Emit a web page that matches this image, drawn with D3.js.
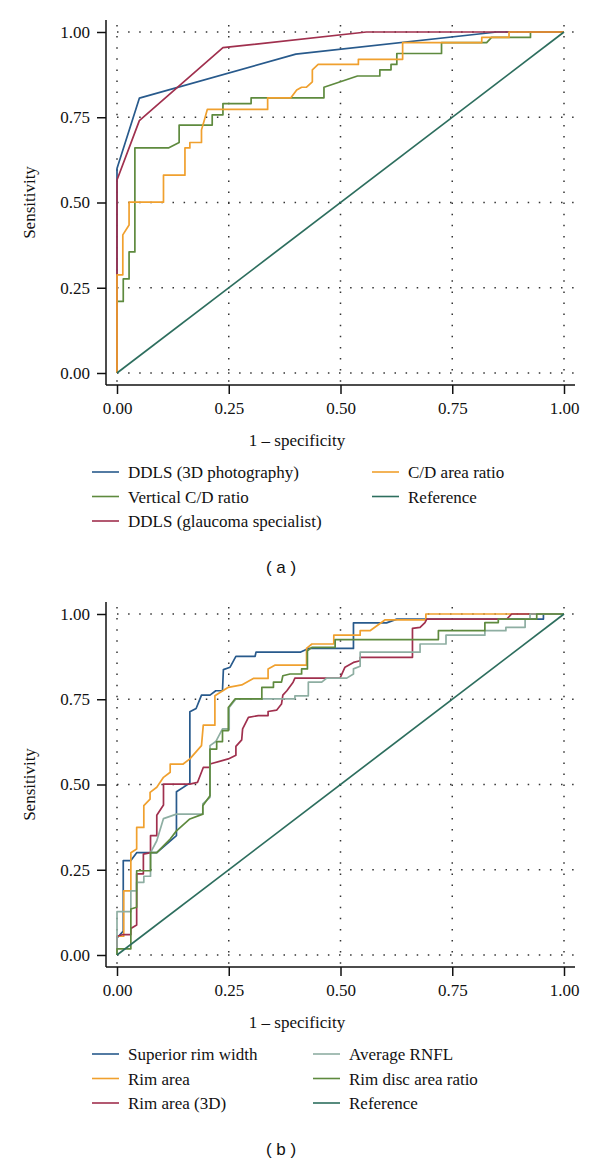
<!DOCTYPE html>
<html>
<head>
<meta charset="utf-8">
<script src="https://cdn.jsdelivr.net/npm/d3@7"></script>
<style>
    body { margin: 0; background: #fff; }
    svg { display: block; }
    .tick-label, .axis-title, .legend-text { font-family: "Liberation Serif", "DejaVu Serif", serif; fill: #111; }
    .panel-tag { font-family: "Liberation Sans", Arial, sans-serif; fill: #111; }
</style>
</head>
<body>
<script>
(function(){
    // Tick values shared by both panels
    var tickValues = [0, 0.25, 0.5, 0.75, 1];
    var tickLabels = ["0.00", "0.25", "0.50", "0.75", "1.00"];

    // ---- Panel (a): [1 - specificity, sensitivity] ----
    var ddls3d = [[0,0],[0,0.60],[0.05,0.806],[0.40,0.935],[0.85,1],[1,1]];
    var vcdRatio = [[0,0],[0,0.21],[0.014,0.21],[0.014,0.276],[0.027,0.276],[0.027,0.355],[0.040,0.355],[0.040,0.66],
        [0.115,0.66],[0.139,0.676],[0.139,0.727],[0.213,0.727],[0.213,0.757],[0.237,0.757],[0.237,0.79],[0.30,0.79],
        [0.30,0.807],[0.463,0.807],[0.463,0.838],[0.538,0.871],[0.588,0.871],[0.588,0.889],[0.613,0.889],[0.613,0.905],
        [0.626,0.905],[0.626,0.937],[0.726,0.937],[0.726,0.969],[0.827,0.969],[0.838,0.984],[0.925,0.984],[0.925,1],[1,1]];
    var ddlsSpec = [[0,0],[0,0.566],[0.05,0.74],[0.237,0.954],[0.558,1],[1,1]];
    var cdArea = [[0,0],[0,0.288],[0.013,0.288],[0.013,0.405],[0.027,0.434],[0.027,0.501],[0.104,0.501],[0.104,0.58],
        [0.152,0.58],[0.152,0.66],[0.163,0.66],[0.163,0.676],[0.189,0.676],[0.189,0.713],[0.195,0.74],[0.202,0.773],
        [0.337,0.773],[0.337,0.807],[0.389,0.807],[0.402,0.83],[0.413,0.838],[0.424,0.838],[0.437,0.854],[0.437,0.889],
        [0.45,0.905],[0.54,0.905],[0.54,0.92],[0.639,0.92],[0.639,0.969],[0.816,0.969],[0.816,0.984],[0.877,0.984],
        [0.877,1],[1,1]];
    var referenceLine = [[0,0],[1,1]];

    // ---- Panel (b) ----
    var supRimWidth = [[0,0],[0,0.05],[0.014,0.07],[0.014,0.277],[0.031,0.277],[0.044,0.30],[0.089,0.30],[0.133,0.35],
        [0.133,0.479],[0.163,0.504],[0.163,0.713],[0.177,0.723],[0.189,0.762],[0.208,0.762],[0.221,0.775],[0.236,0.775],
        [0.238,0.837],[0.253,0.844],[0.266,0.876],[0.309,0.876],[0.311,0.888],[0.41,0.888],[0.428,0.899],[0.529,0.899],
        [0.529,0.974],[0.603,0.974],[0.626,0.985],[0.954,0.985],[0.954,1],[1,1]];
    var rimArea = [[0,0],[0,0.055],[0.015,0.055],[0.015,0.188],[0.031,0.188],[0.031,0.30],[0.044,0.311],[0.044,0.374],
        [0.060,0.374],[0.060,0.438],[0.074,0.457],[0.074,0.477],[0.089,0.492],[0.104,0.521],[0.119,0.536],[0.119,0.56],
        [0.148,0.56],[0.163,0.575],[0.189,0.614],[0.193,0.674],[0.219,0.674],[0.219,0.76],[0.249,0.785],[0.279,0.792],
        [0.305,0.811],[0.338,0.811],[0.338,0.839],[0.353,0.85],[0.424,0.85],[0.424,0.899],[0.436,0.912],[0.485,0.912],
        [0.485,0.938],[0.544,0.938],[0.544,0.951],[0.566,0.951],[0.60,0.983],[0.691,0.983],[0.691,1],[1,1]];
    var rimArea3d = [[0,0],[0,0.055],[0.014,0.06],[0.031,0.06],[0.031,0.078],[0.044,0.088],[0.044,0.238],[0.059,0.238],
        [0.059,0.296],[0.075,0.30],[0.075,0.35],[0.089,0.35],[0.089,0.41],[0.104,0.44],[0.104,0.501],[0.163,0.501],
        [0.18,0.506],[0.193,0.55],[0.208,0.55],[0.208,0.56],[0.249,0.575],[0.266,0.586],[0.266,0.612],[0.279,0.631],
        [0.281,0.663],[0.294,0.697],[0.316,0.702],[0.338,0.702],[0.338,0.714],[0.357,0.718],[0.368,0.736],[0.371,0.762],
        [0.38,0.775],[0.394,0.80],[0.398,0.812],[0.499,0.812],[0.51,0.844],[0.529,0.858],[0.544,0.863],[0.544,0.873],
        [0.661,0.873],[0.661,0.958],[0.678,0.961],[0.689,0.975],[0.693,0.985],[0.872,0.985],[0.883,1],[1,1]];
    var avgRnfl = [[0,0],[0,0.127],[0.031,0.127],[0.031,0.188],[0.044,0.188],[0.044,0.213],[0.06,0.213],[0.06,0.231],
        [0.075,0.231],[0.075,0.30],[0.089,0.335],[0.104,0.40],[0.133,0.413],[0.192,0.413],[0.192,0.443],[0.208,0.462],
        [0.208,0.614],[0.221,0.626],[0.236,0.663],[0.251,0.663],[0.251,0.726],[0.266,0.751],[0.398,0.751],[0.398,0.76],
        [0.428,0.76],[0.428,0.80],[0.458,0.80],[0.469,0.812],[0.514,0.812],[0.529,0.824],[0.529,0.839],[0.544,0.847],
        [0.544,0.888],[0.678,0.888],[0.678,0.912],[0.736,0.912],[0.736,0.938],[0.823,0.938],[0.823,0.951],[0.87,0.951],
        [0.87,0.961],[0.913,0.961],[0.913,0.985],[0.924,0.985],[0.924,1],[1,1]];
    var rimDiscRatio = [[0,0],[0,0.018],[0.031,0.018],[0.031,0.135],[0.044,0.14],[0.044,0.247],[0.075,0.247],[0.075,0.30],
        [0.089,0.30],[0.104,0.32],[0.119,0.34],[0.133,0.364],[0.163,0.399],[0.192,0.413],[0.192,0.438],[0.208,0.467],
        [0.208,0.604],[0.223,0.604],[0.223,0.626],[0.236,0.626],[0.236,0.658],[0.249,0.658],[0.249,0.726],[0.264,0.751],
        [0.324,0.751],[0.324,0.785],[0.35,0.785],[0.35,0.80],[0.368,0.80],[0.371,0.819],[0.387,0.824],[0.413,0.824],
        [0.413,0.839],[0.426,0.839],[0.426,0.892],[0.436,0.902],[0.488,0.902],[0.488,0.925],[0.719,0.925],[0.719,0.951],
        [0.823,0.951],[0.823,0.975],[0.853,0.975],[0.853,0.985],[0.939,0.985],[0.939,1],[1,1]];

    // Series definitions (legend order: col, row)
    var seriesA = [
        { name: "DDLS (3D photography)", data: ddls3d, color: "#285a8c", col: 0, row: 0 },
        { name: "Vertical C/D ratio", data: vcdRatio, color: "#5e8a3e", col: 0, row: 1 },
        { name: "DDLS (glaucoma specialist)", data: ddlsSpec, color: "#a0304e", col: 0, row: 2 },
        { name: "C/D area ratio", data: cdArea, color: "#f0a02e", col: 1, row: 0 },
        { name: "Reference", data: referenceLine, color: "#2d6e5e", col: 1, row: 1 }
    ];
    var seriesB = [
        { name: "Superior rim width", data: supRimWidth, color: "#285a8c", col: 0, row: 0 },
        { name: "Rim area", data: rimArea, color: "#f0a02e", col: 0, row: 1 },
        { name: "Rim area (3D)", data: rimArea3d, color: "#a0304e", col: 0, row: 2 },
        { name: "Average RNFL", data: avgRnfl, color: "#8eaea2", col: 1, row: 0 },
        { name: "Rim disc area ratio", data: rimDiscRatio, color: "#5e8a3e", col: 1, row: 1 },
        { name: "Reference", data: referenceLine, color: "#2d6e5e", col: 1, row: 2 }
    ];

    var width = 600, height = 1165;
    var svg = d3.select("body").append("svg")
        .attr("width", width)
        .attr("height", height);

    drawPanel(0, seriesA, [92, 372], "( a )");
    drawPanel(582, seriesB, [92, 313], "( b )");

    //==========================================
    // ONE ROC PANEL
    //==========================================
    function drawPanel(offsetY, series, legendX, tag){
        var g = svg.append("g").attr("transform", "translate(0," + offsetY + ")");

        var x = d3.scaleLinear().domain([0, 1]).range([117, 564]);
        var y = d3.scaleLinear().domain([0, 1]).range([373, 32]);
        var left = 106, right = 575, top = 20, bottom = 385;

        // dotted grid
        var grid = g.append("g").attr("class", "grid");
        grid.selectAll(".gy").data(tickValues).enter().append("line")
            .attr("x1", left + 11).attr("x2", right)
            .attr("y1", d => y(d)).attr("y2", d => y(d))
            .attr("stroke", "#333").attr("stroke-width", 1.5)
            .attr("stroke-dasharray", "1.5,9.6");
        grid.selectAll(".gx").data(tickValues).enter().append("line")
            .attr("x1", d => x(d)).attr("x2", d => x(d))
            .attr("y1", top + 5).attr("y2", bottom)
            .attr("stroke", "#333").attr("stroke-width", 1.5)
            .attr("stroke-dasharray", "1.5,9.6");

        // axes
        var yAxis = d3.axisLeft(y).tickValues(tickValues)
            .tickFormat((d, i) => tickLabels[i]).tickSize(9).tickPadding(7);
        var yg = g.append("g").attr("transform", "translate(" + left + ",0)").call(yAxis);
        yg.select(".domain").attr("d", "M0," + top + "V" + bottom);

        var xAxis = d3.axisBottom(x).tickValues(tickValues)
            .tickFormat((d, i) => tickLabels[i]).tickSize(9).tickPadding(8);
        var xg = g.append("g").attr("transform", "translate(0," + bottom + ")").call(xAxis);
        xg.select(".domain").attr("d", "M" + left + ",0H" + right);

        [yg, xg].forEach(function(ax){
            ax.selectAll(".domain, .tick line").attr("stroke", "#111").attr("stroke-width", 1.5);
            ax.selectAll(".tick text").attr("class", "tick-label")
                .attr("font-family", null).style("font-size", "17px").attr("fill", "#111");
        });

        // axis titles
        g.append("text").attr("class", "axis-title")
            .attr("x", 297).attr("y", 446)
            .attr("text-anchor", "middle").style("font-size", "17px")
            .text("1 \u2013 specificity");
        g.append("text").attr("class", "axis-title")
            .attr("transform", "translate(35," + y(0.5) + ") rotate(-90)")
            .attr("text-anchor", "middle").style("font-size", "17px")
            .text("Sensitivity");

        // curves
        var line = d3.line().x(d => x(d[0])).y(d => y(d[1]));
        g.append("g").selectAll("path").data(series).enter().append("path")
            .attr("d", d => line(d.data))
            .attr("fill", "none")
            .attr("stroke", d => d.color)
            .attr("stroke-width", 1.7)
            .attr("stroke-linejoin", "round");

        // legend
        var legend = g.append("g").selectAll("g").data(series).enter().append("g")
            .attr("transform", d => "translate(" + legendX[d.col] + "," + (472 + d.row * 24.5) + ")");
        legend.append("line")
            .attr("x1", 0).attr("x2", 27).attr("y1", 0).attr("y2", 0)
            .attr("stroke", d => d.color).attr("stroke-width", 1.6);
        legend.append("text").attr("class", "legend-text")
            .attr("x", 36).attr("y", 6)
            .style("font-size", "17px")
            .text(d => d.name);

        // panel tag
        g.append("text").attr("class", "panel-tag")
            .attr("x", 281).attr("y", 573)
            .attr("text-anchor", "middle").style("font-size", "17px")
            .text(tag);
    }
})();
</script>
</body>
</html>
